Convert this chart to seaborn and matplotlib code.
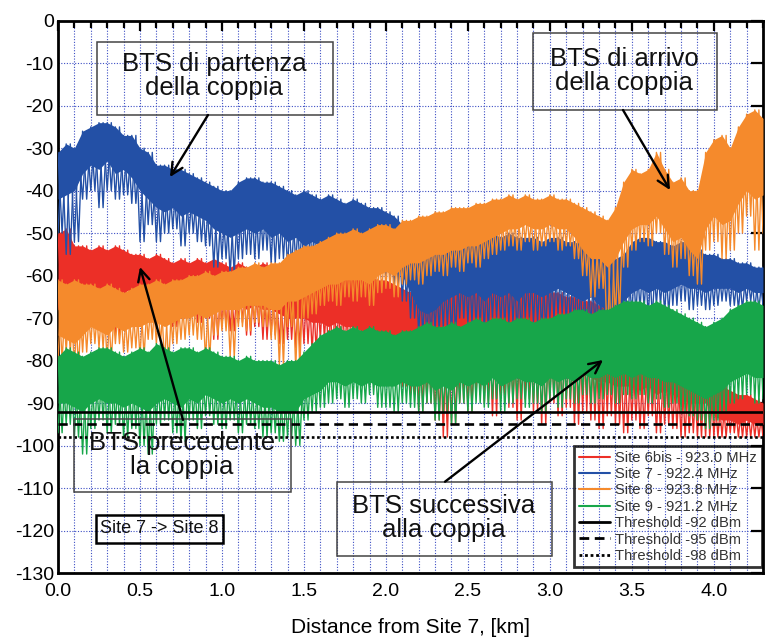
import numpy as np
import pandas as pd
import matplotlib
matplotlib.use("Agg")
import matplotlib.pyplot as plt
import seaborn as sns
from matplotlib.patches import Rectangle
from matplotlib.lines import Line2D
from matplotlib.ticker import MultipleLocator, FormatStrFormatter

sns.set_theme(style="white")
plt.rcParams['font.family'] = ['Liberation Sans', 'DejaVu Sans']
plt.rcParams['axes.unicode_minus'] = False

# ---------------- data ----------------
distance_km = [
    0.00, 0.05, 0.10, 0.15, 0.20, 0.25, 0.30, 0.35, 0.40, 0.45,
    0.50, 0.55, 0.60, 0.65, 0.70, 0.75, 0.80, 0.85, 0.90, 0.95,
    1.00, 1.05, 1.10, 1.15, 1.20, 1.25, 1.30, 1.35, 1.40, 1.45,
    1.50, 1.55, 1.60, 1.65, 1.70, 1.75, 1.80, 1.85, 1.90, 1.95,
    2.00, 2.05, 2.10, 2.15, 2.20, 2.25, 2.30, 2.35, 2.40, 2.45,
    2.50, 2.55, 2.60, 2.65, 2.70, 2.75, 2.80, 2.85, 2.90, 2.95,
    3.00, 3.05, 3.10, 3.15, 3.20, 3.25, 3.30, 3.35, 3.40, 3.45,
    3.50, 3.55, 3.60, 3.65, 3.70, 3.75, 3.80, 3.85, 3.90, 3.95,
    4.00, 4.05, 4.10, 4.15, 4.20, 4.25, 4.30]

# received level [dBm] of each trace: upper envelope (hi), bottom of the
# dense core (lo) and depth of the fading dips (dip)
site6bis_hi = [
    -50, -49, -53, -53, -54, -53, -54, -53, -54, -55,
    -55, -56, -55, -56, -57, -56, -57, -56, -57, -56,
    -57, -58, -57, -58, -58, -57, -58, -58, -57, -58,
    -57, -58, -57, -58, -58, -59, -58, -60, -60, -61,
    -61, -62, -63, -64, -64, -65, -64, -66, -64, -63,
    -64, -63, -64, -63, -62, -63, -62, -63, -62, -63,
    -64, -64, -65, -65, -66, -66, -67, -68, -70, -72,
    -73, -74, -74, -75, -75, -76, -77, -78, -79, -74,
    -84, -86, -87, -88, -88, -89, -90]
site6bis_lo = [
    -63, -62, -64, -63, -65, -64, -63, -64, -64, -63,
    -64, -64, -65, -64, -66, -65, -64, -65, -66, -66,
    -66, -67, -66, -68, -67, -68, -68, -69, -70, -70,
    -70, -71, -71, -72, -71, -72, -72, -73, -73, -74,
    -75, -76, -77, -79, -80, -82, -83, -84, -84, -82,
    -82, -80, -81, -82, -80, -81, -82, -81, -82, -82,
    -81, -82, -82, -84, -83, -84, -85, -85, -86, -86,
    -86, -87, -86, -88, -87, -88, -89, -90, -90, -90,
    -93, -94, -94, -95, -94, -95, -95]
site6bis_dip = [
    -68, -70, -67, -72, -69, -71, -68, -74, -70, -68,
    -70, -68, -71, -69, -72, -70, -68, -71, -70, -75,
    -72, -73, -71, -74, -72, -75, -74, -76, -75, -77,
    -76, -78, -75, -79, -77, -78, -76, -80, -79, -82,
    -82, -84, -86, -88, -92, -90, -94, -98, -95, -90,
    -92, -88, -90, -93, -88, -91, -94, -89, -92, -95,
    -90, -93, -91, -95, -92, -94, -96, -93, -95, -97,
    -94, -96, -93, -97, -95, -96, -98, -97, -98, -98,
    -98, -98, -97, -98, -98, -98, -98]

site7_hi = [
    -31, -29, -30, -26, -25, -24, -24, -25, -27, -27,
    -30, -31, -34, -34, -35, -35, -36, -37, -38, -39,
    -40, -40, -38, -37, -37, -38, -38, -39, -40, -41,
    -40, -41, -42, -41, -42, -43, -42, -43, -44, -44,
    -45, -46, -48, -50, -53, -54, -54, -52, -51, -51,
    -50, -50, -51, -50, -51, -50, -51, -51, -51, -52,
    -51, -51, -52, -52, -53, -53, -54, -55, -56, -55,
    -52, -51, -51, -52, -52, -53, -52, -52, -54, -55,
    -55, -56, -56, -57, -57, -58, -58]
site7_lo = [
    -42, -41, -40, -36, -34, -35, -33, -36, -35, -37,
    -40, -42, -44, -45, -44, -46, -45, -46, -47, -49,
    -50, -51, -50, -49, -50, -49, -51, -50, -52, -51,
    -53, -52, -53, -52, -53, -54, -53, -52, -54, -53,
    -55, -56, -60, -64, -68, -69, -68, -66, -65, -64,
    -65, -64, -66, -64, -65, -64, -66, -64, -64, -65,
    -64, -63, -64, -65, -66, -65, -67, -68, -68, -66,
    -64, -63, -64, -63, -64, -63, -62, -63, -63, -64,
    -63, -63, -63, -64, -63, -64, -64]
site7_dip = [
    -50, -55, -52, -42, -40, -44, -40, -42, -41, -43,
    -52, -48, -52, -50, -49, -53, -50, -52, -53, -58,
    -56, -60, -56, -55, -56, -54, -57, -56, -58, -57,
    -58, -57, -59, -57, -58, -60, -58, -57, -60, -58,
    -60, -62, -66, -70, -74, -75, -73, -72, -74, -70,
    -71, -72, -73, -70, -72, -71, -74, -70, -71, -73,
    -70, -69, -71, -72, -74, -72, -74, -75, -74, -72,
    -69, -68, -70, -67, -69, -67, -66, -68, -67, -68,
    -67, -66, -67, -68, -66, -68, -67]

site8_hi = [
    -61, -62, -61, -62, -62, -63, -62, -63, -64, -63,
    -62, -62, -61, -62, -61, -61, -60, -60, -59, -60,
    -59, -59, -58, -58, -57, -58, -57, -57, -55, -54,
    -53, -53, -52, -51, -50, -50, -49, -50, -49, -48,
    -48, -49, -47, -47, -46, -46, -45, -45, -44, -44,
    -44, -43, -43, -42, -42, -41, -42, -41, -42, -42,
    -41, -42, -42, -43, -44, -45, -46, -47, -44, -38,
    -35, -36, -35, -31, -35, -38, -37, -40, -40, -31,
    -28, -27, -30, -25, -22, -21, -23]
site8_lo = [
    -74, -75, -76, -74, -72, -73, -74, -72, -73, -72,
    -72, -71, -71, -72, -71, -70, -70, -69, -70, -69,
    -68, -68, -68, -67, -67, -67, -68, -68, -66, -66,
    -65, -64, -63, -62, -62, -61, -61, -61, -62, -60,
    -59, -60, -58, -57, -57, -56, -55, -55, -54, -54,
    -53, -53, -52, -51, -50, -49, -49, -48, -49, -49,
    -48, -49, -49, -51, -54, -56, -56, -58, -56, -52,
    -49, -48, -48, -46, -49, -52, -51, -54, -56, -49,
    -46, -48, -47, -43, -40, -42, -41]
site8_dip = [
    -80, -78, -82, -78, -76, -77, -80, -76, -78, -77,
    -79, -75, -76, -81, -76, -75, -74, -75, -80, -74,
    -73, -79, -72, -73, -71, -72, -75, -81, -72, -82,
    -70, -69, -67, -66, -67, -65, -66, -65, -67, -64,
    -63, -65, -62, -61, -62, -60, -59, -60, -58, -59,
    -57, -58, -56, -55, -54, -53, -54, -52, -54, -53,
    -52, -54, -53, -56, -60, -65, -63, -76, -70, -58,
    -54, -52, -53, -50, -55, -58, -56, -60, -62, -54,
    -52, -56, -54, -50, -46, -54, -50]

site9_hi = [
    -79, -77, -78, -79, -78, -77, -77, -78, -79, -78,
    -77, -78, -76, -77, -78, -77, -77, -78, -77, -78,
    -79, -79, -80, -79, -80, -80, -80, -81, -80, -80,
    -78, -76, -74, -73, -72, -73, -72, -73, -72, -73,
    -73, -74, -73, -73, -72, -71, -72, -72, -71, -72,
    -71, -70, -71, -70, -70, -71, -70, -70, -71, -70,
    -70, -69, -69, -68, -68, -69, -68, -68, -67, -66,
    -66, -66, -67, -66, -67, -68, -69, -70, -71, -72,
    -71, -70, -68, -67, -66, -66, -67]
site9_lo = [
    -90, -90, -91, -92, -90, -89, -90, -90, -91, -90,
    -91, -92, -90, -89, -90, -91, -89, -90, -88, -89,
    -90, -89, -90, -89, -90, -91, -91, -92, -92, -92,
    -89, -88, -87, -85, -85, -86, -85, -86, -85, -86,
    -86, -86, -85, -86, -86, -85, -87, -86, -87, -85,
    -86, -85, -86, -84, -86, -85, -84, -85, -85, -86,
    -84, -85, -84, -85, -83, -84, -84, -83, -84, -83,
    -84, -83, -84, -84, -85, -85, -86, -87, -88, -89,
    -88, -87, -85, -84, -83, -84, -84]
site9_dip = [
    -97, -95, -98, -102, -96, -94, -97, -95, -98, -96,
    -100, -102, -95, -94, -97, -99, -94, -96, -93, -95,
    -96, -94, -97, -95, -96, -98, -97, -99, -98, -100,
    -94, -92, -91, -90, -89, -91, -89, -90, -88, -91,
    -91, -92, -90, -91, -92, -90, -94, -92, -95, -90,
    -92, -90, -91, -89, -92, -90, -89, -91, -90, -92,
    -89, -91, -89, -90, -88, -90, -89, -88, -90, -88,
    -89, -88, -90, -89, -91, -90, -92, -93, -94, -96,
    -94, -92, -90, -89, -88, -90, -89]

series_labels = ["Site 6bis - 923.0 MHz", "Site 7 - 922.4 MHz",
                 "Site 8 - 923.8 MHz", "Site 9 - 921.2 MHz"]
series_colors = ["#ec2f27", "#2350a6", "#f58a2c", "#17a64a"]
series_hi = [site6bis_hi, site7_hi, site8_hi, site9_hi]
series_lo = [site6bis_lo, site7_lo, site8_lo, site9_lo]
series_dip = [site6bis_dip, site7_dip, site8_dip, site9_dip]

threshold_dbm = [-92, -95, -98]
threshold_labels = ["Threshold -92 dBm", "Threshold -95 dBm", "Threshold -98 dBm"]
threshold_styles = ["-", (0, (3.5, 2)), (0, (1, 1))]

# ---------------- figure ----------------
W, H = 768, 640
fig = plt.figure(figsize=(W / 100, H / 100), dpi=100)
L, R, T, B = 58, 763, 20.7, 573
ax = fig.add_axes([L / W, 1 - B / H, (R - L) / W, (B - T) / H])

half_step = (distance_km[1] - distance_km[0]) / 2


def zigzag(a, b):
    xs, ys = [], []
    for d, p, q in zip(distance_km, a, b):
        xs += [d, d + half_step]
        ys += [p, q]
    return pd.DataFrame({"distance": xs, "level": ys})


for col, hi, lo, dip in zip(series_colors, series_hi, series_lo, series_dip):
    # dense core of the trace
    ax.fill_between(distance_km, hi, lo, color=col, lw=0, zorder=3)
    # fast-fading excursions around the core
    sns.lineplot(data=zigzag(hi, dip), x="distance", y="level", ax=ax,
                 sort=False, estimator=None, color=col, lw=1.0, zorder=3)
    sns.lineplot(data=zigzag(dip, hi), x="distance", y="level", ax=ax,
                 sort=False, estimator=None, color=col, lw=1.0, zorder=3)

for thr, st in zip(threshold_dbm, threshold_styles):
    ax.axhline(thr, color="black", lw=1.9, ls=st, zorder=4)

ax.set_xlim(0, 4.3)
ax.set_ylim(-130, 0)
ax.xaxis.set_major_locator(MultipleLocator(0.5))
ax.xaxis.set_minor_locator(MultipleLocator(0.1))
ax.xaxis.set_major_formatter(FormatStrFormatter("%.1f"))
ax.yaxis.set_major_locator(MultipleLocator(10))
ax.yaxis.set_major_formatter(FormatStrFormatter("%d"))

ax.set_axisbelow(True)
gkw = dict(color="#3d4fc4", lw=0.8, ls=(0, (1, 1.5)))
ax.grid(True, which="both", axis="x", **gkw)
ax.grid(True, which="major", axis="y", **gkw)

ax.tick_params(which="both", direction="in", top=True, right=True,
               color="black", width=1.6, labelcolor="black")
ax.tick_params(axis="x", which="major", length=7, labelsize=14, pad=7)
ax.tick_params(axis="x", which="minor", length=5)
ax.tick_params(axis="y", which="major", length=9, labelsize=14, pad=3)
for sp in ax.spines.values():
    sp.set_color("black")
    sp.set_linewidth(2)

ax.set_xlabel("Distance from Site 7, [km]", fontsize=15, labelpad=13,
              color="black")
ax.set_ylabel("")


def px2data(px, py):
    return (px - L) / ((R - L) / 4.3), -(py - T) / ((B - T) / 130)


def box(px0, py0, px1, py1, ec="#444444", lw=1.1):
    x0, y0 = px2data(px0, py1)
    x1, y1 = px2data(px1, py0)
    ax.add_patch(Rectangle((x0, y0), x1 - x0, y1 - y0, fill=False,
                           ec=ec, lw=lw, zorder=6))


def label(px, py, txt, size=18.5):
    x, y = px2data(px, py)
    ax.text(x, y, txt, ha="center", va="center", fontsize=size,
            color="#111111", linespacing=1.0, zorder=7)


def arrow(p_from, p_to):
    ax.annotate("", xy=px2data(*p_to), xytext=px2data(*p_from),
                arrowprops=dict(arrowstyle="->,head_length=0.7,head_width=0.35",
                                color="black", lw=1.7, shrinkA=0, shrinkB=0),
                zorder=7)


box(96.7, 41.7, 333, 115)
label(214, 76, "BTS di partenza\ndella coppia")
arrow((208, 115), (170, 177))

box(533, 33, 717, 110)
label(624, 71, "BTS di arrivo\ndella coppia")
arrow((623, 110), (670, 190))

box(74, 419.3, 290.7, 492.3)
label(182, 455, "BTS precedente\nla coppia")
arrow((183, 420), (140, 267))

box(336.7, 481.7, 551.7, 555.7)
label(444, 518, "BTS successiva\nalla coppia")
arrow((445, 481.7), (603, 360))

box(95.7, 515, 222.7, 542.7, ec="black", lw=1.8)
label(159.2, 528.8, "Site 7 -> Site 8", size=13)

handles = [Line2D([], [], color=c, lw=1.5, label=l)
           for c, l in zip(series_colors, series_labels)]
handles += [Line2D([], [], color="black", lw=2, ls=s, label=l)
            for s, l in zip(threshold_styles, threshold_labels)]
leg = ax.legend(handles=handles, loc="lower right",
                bbox_to_anchor=(0.998, 0.0103), borderaxespad=0,
                frameon=True, fancybox=False, edgecolor="black",
                facecolor="none", fontsize=10.6, handlelength=2.1,
                handletextpad=0.4, labelspacing=0.16, borderpad=0.3,
                labelcolor="#333333")
leg.get_frame().set_linewidth(2)
leg.set_zorder(8)

fig.savefig("out.png", dpi=100)
